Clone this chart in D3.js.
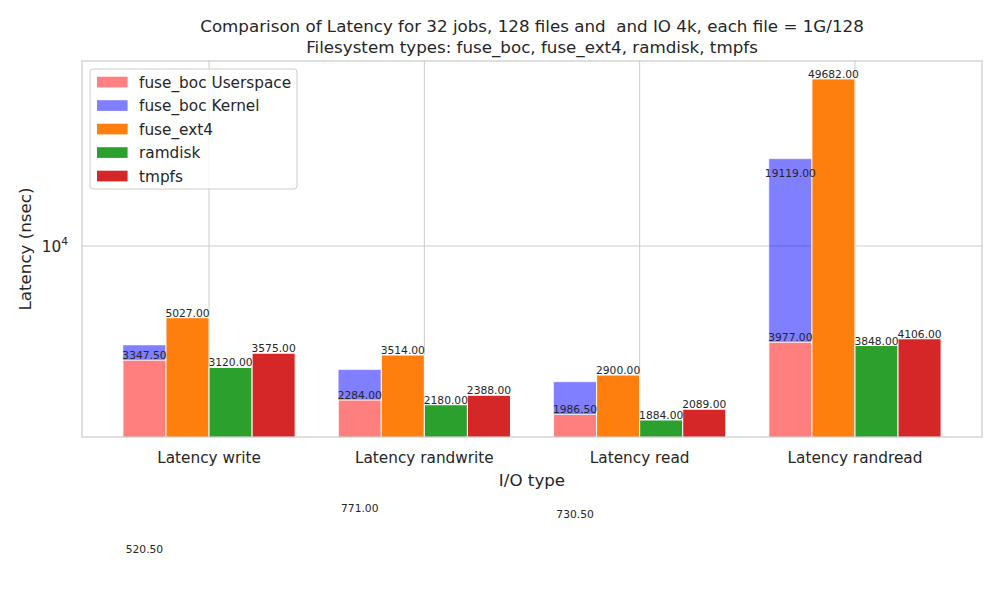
<!DOCTYPE html>
<meta charset="utf-8">
<script src="https://d3js.org/d3.v7.min.js"></script>
<style>
  body { margin: 0; background: #fff; }
  text { font-family: "DejaVu Sans", sans-serif; fill: #262626; }
</style>
<body>
<div id="chart"></div>
<script>

  // data
  const ioTypes = ["Latency write", "Latency randwrite", "Latency read", "Latency randread"];
  const bocUser   = [3347.5, 2284, 1986.5, 3977];
  const bocKernel = [520.5, 771, 730.5, 19119];
  const ext4      = [5027, 3514, 2900, 49682];
  const ramdisk   = [3120, 2180, 1884, 3848];
  const tmpfs     = [3575, 2388, 2089, 4106];
  const legendNames = ["fuse_boc Userspace", "fuse_boc Kernel", "fuse_ext4", "ramdisk", "tmpfs"];
  const legendColors = ["#ff8080", "#8080ff", "#ff7f0e", "#2ca02c", "#d62728"];

  const margin = {top: 61, right: 18, bottom: 163, left: 82},
      width = 1000 - margin.left - margin.right,
      height = 600 - margin.top - margin.bottom;

  const svg = d3.select("#chart")
    .append("svg")
    .attr("width", 1000)
    .attr("height", 600);

  const g = svg.append("g")
    .attr("transform", `translate(${margin.left},${margin.top})`);

  // x in "group units": group i centred at i, each bar 0.2 wide
  const bw = 0.2;
  const x = d3.scaleLinear().domain([-0.59, 3.59]).range([0, width]);
  const barW = x(bw) - x(0);

  const y = d3.scaleLog().domain([1600, 58990]).range([height, 0]);

  // grid
  g.selectAll("vgrid")
    .data(ioTypes)
    .join("line")
      .attr("x1", (d, i) => x(i)).attr("x2", (d, i) => x(i))
      .attr("y1", 0).attr("y2", height)
      .attr("stroke", "#cccccc").attr("stroke-width", 1);
  g.append("line")
    .attr("x1", 0).attr("x2", width)
    .attr("y1", y(10000)).attr("y2", y(10000))
    .attr("stroke", "#cccccc").attr("stroke-width", 1);

  // clip for bars
  svg.append("clipPath").attr("id", "clip")
    .append("rect").attr("width", width).attr("height", height);
  const bars = g.append("g").attr("clip-path", "url(#clip)");

  const series = [
    {vals: ext4, off: -0.5, color: "#ff7f0e"},
    {vals: ramdisk, off: 0.5, color: "#2ca02c"},
    {vals: tmpfs, off: 1.5, color: "#d62728"}
  ];
  const bocOff = -1.5;

  // fuse_boc stacked: userspace then kernel on top
  bars.selectAll(null)
    .data(bocUser)
    .join("rect")
      .attr("x", (d, i) => x(i + bocOff * bw - bw / 2))
      .attr("width", barW)
      .attr("y", d => y(d))
      .attr("height", d => height + 50 - y(d))
      .attr("fill", "red").attr("fill-opacity", 0.5)
      .attr("stroke", "white").attr("stroke-width", 1);
  bars.selectAll(null)
    .data(bocKernel)
    .join("rect")
      .attr("x", (d, i) => x(i + bocOff * bw - bw / 2))
      .attr("width", barW)
      .attr("y", (d, i) => y(d + bocUser[i]))
      .attr("height", (d, i) => y(bocUser[i]) - y(d + bocUser[i]))
      .attr("fill", "blue").attr("fill-opacity", 0.5)
      .attr("stroke", "white").attr("stroke-opacity", 0.5).attr("stroke-width", 1);

  series.forEach(s => {
    bars.selectAll(null)
      .data(s.vals)
      .join("rect")
        .attr("x", (d, i) => x(i + s.off * bw - bw / 2))
        .attr("width", barW)
        .attr("y", d => y(d))
        .attr("height", d => height + 50 - y(d))
        .attr("fill", s.color)
        .attr("stroke", "white").attr("stroke-width", 1);
  });

  // value labels (placed at the value itself, not clipped)
  const labelData = [];
  bocUser.forEach((v, i) => labelData.push({x: i + bocOff * bw, v: v}));
  bocKernel.forEach((v, i) => labelData.push({x: i + bocOff * bw, v: v}));
  series.forEach(s => s.vals.forEach((v, i) => labelData.push({x: i + s.off * bw, v: v})));
  g.selectAll("vlabel")
    .data(labelData)
    .join("text")
      .attr("x", d => x(d.x))
      .attr("y", d => y(d.v) - 1)
      .attr("text-anchor", "middle")
      .style("font-size", "10.7px")
      .text(d => d.v.toFixed(2));

  // frame
  g.append("rect")
    .attr("width", width).attr("height", height)
    .attr("fill", "none").attr("stroke", "#cccccc").attr("stroke-width", 1.25);

  // x tick labels
  g.selectAll("xtick")
    .data(ioTypes)
    .join("text")
      .attr("x", (d, i) => x(i))
      .attr("y", height + 26)
      .attr("text-anchor", "middle")
      .style("font-size", "15.3px")
      .text(d => d);

  // y tick label 10^4
  const yt = g.append("text")
    .attr("x", -14)
    .attr("y", y(10000) + 6)
    .attr("text-anchor", "end")
    .style("font-size", "15.3px");
  yt.append("tspan").text("10");
  yt.append("tspan").attr("dy", -7).style("font-size", "10.7px").text("4");

  // axis labels
  g.append("text")
    .attr("x", width / 2)
    .attr("y", height + 49)
    .attr("text-anchor", "middle")
    .style("font-size", "16.7px")
    .text("I/O type");
  g.append("text")
    .attr("transform", `translate(${-51},${height / 2}) rotate(-90)`)
    .attr("text-anchor", "middle")
    .style("font-size", "16.7px")
    .text("Latency (nsec)");

  // title
  const titleLines = ["Comparison of Latency for 32 jobs, 128 files and  and IO 4k, each file = 1G/128",
                      "Filesystem types: fuse_boc, fuse_ext4, ramdisk, tmpfs"];
  g.selectAll("title")
    .data(titleLines)
    .join("text")
      .attr("x", width / 2)
      .attr("y", (d, i) => -29 + i * 21)
      .attr("text-anchor", "middle")
      .attr("xml:space", "preserve")
      .style("white-space", "pre")
      .style("font-size", "16.7px")
      .text(d => d);

  // legend
  const lg = svg.append("g").attr("transform", "translate(90,69)");
  lg.append("rect")
    .attr("width", 207).attr("height", 120).attr("rx", 3)
    .attr("fill", "white").attr("fill-opacity", 0.8)
    .attr("stroke", "#cccccc").attr("stroke-width", 1);
  lg.selectAll("lpatch")
    .data(legendNames)
    .join("rect")
      .attr("x", 7).attr("y", (d, i) => 13 + i * 23.5 - 5.3)
      .attr("width", 30.6).attr("height", 10.7)
      .attr("fill", (d, i) => legendColors[i]);
  lg.selectAll("ltext")
    .data(legendNames)
    .join("text")
      .attr("x", 49).attr("y", (d, i) => 13 + i * 23.5 + 5.5)
      .style("font-size", "15.3px")
      .text(d => d);

</script>
</body>
